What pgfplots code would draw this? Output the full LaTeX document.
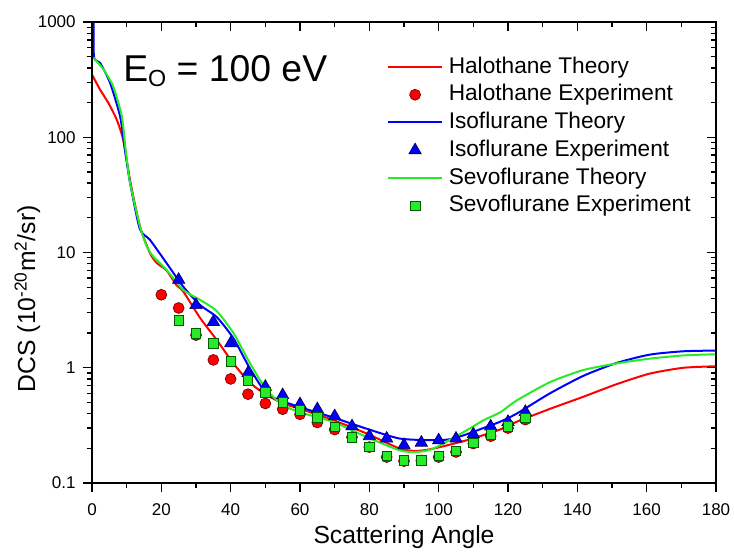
\documentclass[border=0pt]{standalone}
\usepackage{fontspec}
\setmainfont{Liberation Sans}
\usepackage{pgfplots}
\pgfplotsset{compat=1.18}
\usetikzlibrary{calc}

\definecolor{hred}{RGB}{255,0,0}
\definecolor{iblue}{RGB}{0,0,255}
\definecolor{sgreen}{RGB}{40,235,40}
\definecolor{hredD}{RGB}{110,0,0}
\definecolor{iblueD}{RGB}{0,0,90}
\definecolor{sgreenD}{RGB}{0,90,0}

% theory curves (angle, DCS)
\pgfplotstableread{
x y
0 350
2.3 260
4.7 199
7.1 143
9.0 95
11 42
13.8 17
16.7 9.9
18.7 8.1
21.5 7.0
24.4 5.2
26.3 4.6
31.2 2.7
36 1.74
40.8 1.09
45.6 0.74
50.4 0.58
55.2 0.49
60 0.44
69.6 0.351
79.2 0.269
88.8 0.199
93.6 0.19
98.5 0.199
108.1 0.235
117.7 0.291
122.5 0.34
132.1 0.44
141.7 0.56
151.3 0.72
160.9 0.89
170.6 1.0
180 1.03
}\halthe

\pgfplotstableread{
x y
0.5 1500
0.55 506
2.3 444
5.2 297
8.1 152
9.5 78
11 40
13.8 16
16.7 12.9
21.5 8.1
26.3 5.06
31.2 3.5
36 2.75
40.8 1.8
45.6 0.98
50.4 0.595
55.2 0.51
60 0.455
69.6 0.37
79.2 0.296
88.8 0.243
98.5 0.235
103.3 0.24
108.1 0.265
112.9 0.30
117.7 0.34
122.5 0.40
132.1 0.60
141.7 0.85
151.3 1.10
160.9 1.30
170.6 1.39
180 1.41
}\isothe

\pgfplotstableread{
x y
0.4 490
3.3 388
6.1 277
8.6 152
9.7 78
11 40
13.8 17
15.8 11.3
17.7 9.2
21.5 7.08
26.3 4.74
31.2 3.88
36 3.1
40.8 2.0
45.6 1.09
50.4 0.64
55.2 0.474
60 0.41
69.6 0.339
79.2 0.251
88.8 0.192
93.6 0.186
98.5 0.199
108.1 0.287
112.9 0.35
117.7 0.41
122.5 0.52
132.1 0.75
141.7 0.955
151.3 1.09
160.9 1.2
170.6 1.28
180 1.31
}\sevthe

% experiments
\pgfplotstableread{
x y
20 4.3
25 3.3
30 1.92
35 1.17
40 0.80
45 0.59
50 0.49
55 0.437
60 0.395
65 0.335
70 0.291
75 0.25
80 0.205
85 0.168
90 0.155
95 0.157
100 0.168
105 0.186
110 0.22
115 0.255
120 0.30
125 0.355
}\halexp

\pgfplotstableread{
x y
25 5.8
30 3.5
35 2.5
40 1.63
45 0.90
50 0.684
55 0.579
60 0.483
65 0.437
70 0.38
75 0.311
80 0.255
85 0.243
90 0.213
95 0.224
100 0.235
105 0.243
110 0.265
115 0.31
120 0.339
125 0.414
}\isoexp

\pgfplotstableread{
x y
25 2.57
30 1.99
35 1.63
40 1.14
45 0.78
50 0.615
55 0.50
60 0.428
65 0.37
70 0.307
75 0.248
80 0.206
85 0.172
90 0.157
95 0.157
100 0.172
105 0.19
110 0.224
115 0.265
120 0.31
125 0.367
}\sevexp

\pgfplotsset{
  dcsbase/.style={
    width=468pt, height=345.75pt, scale only axis,
    xmin=0, xmax=180, ymin=0.1, ymax=1000,
    xtick={0,20,...,180}, minor x tick num=1,
    ytick={0.1,1,10,100,1000},
    axis line style={line width=1pt},
    every tick/.style={black, line width=1pt},
    major tick length=6.75pt, minor tick length=3.75pt,
  }
}

\begin{document}
\begin{tikzpicture}
\begin{axis}[ymode=log, dcsbase,
  tick align=outside, xtick pos=left, ytick pos=left,
  yticklabels={0.1,1,10,100,1000},
  /pgf/number format/assume math mode=true,
  ticklabel style={font=\fontsize{12.75}{15}\selectfont},
  xticklabel style={yshift=-5pt},
  yticklabel style={xshift=-2pt},
  xlabel={Scattering Angle},
  xlabel style={font=\fontsize{18.5}{22}\selectfont, at={(axis description cs:0.5,0)}, anchor=base, yshift=-45pt},
  ylabel={DCS (10\textsuperscript{-20}m\textsuperscript{2}/sr)},
  ylabel style={font=\fontsize{18.5}{22}\selectfont, at={(axis description cs:-0.0913,0.187)}, anchor=base west, rotate=0},
  legend style={at={(0.473,0.933)}, anchor=north west, draw=none, fill=none,
    inner sep=0pt, column sep=4.5pt, row sep=0pt,
    font=\fontsize{17}{20}\selectfont,
    nodes={inner sep=0pt, text height=15pt, text depth=5.8pt}},
  legend cell align=left,
  legend image code/.code={\draw[mark repeat=2,mark phase=2,#1] plot coordinates {(0pt,0pt) (20pt,0pt) (40pt,0pt)};},
]
\coordinate (sw) at (rel axis cs:0,0);
\coordinate (ne) at (rel axis cs:1,1);
\addplot[hred, line width=1.5pt, smooth, tension=0.4] table {\halthe};
\addlegendentry{Halothane Theory}
\addplot[only marks, mark=*, mark size=4.1pt, mark options={fill=hred, draw=hredD, line width=0.5pt}] table {\halexp};
\addlegendentry{Halothane Experiment}
\addplot[iblue, line width=1.5pt, smooth, tension=0.4] table {\isothe};
\addlegendentry{Isoflurane Theory}
\addplot[only marks, mark=triangle*, mark size=5.3pt, mark options={fill=iblue, draw=iblueD, line width=0.5pt}] table {\isoexp};
\addlegendentry{Isoflurane Experiment}
\addplot[sgreen, line width=1.5pt, smooth, tension=0.4] table {\sevthe};
\addlegendentry{Sevoflurane Theory}
\addplot[only marks, mark=square*, mark size=3.6pt, mark options={fill=sgreen, draw=sgreenD, line width=0.5pt}] table {\sevexp};
\addlegendentry{Sevoflurane Experiment}
\node[anchor=base west, font=\fontsize{28}{32}\selectfont, inner sep=0pt] at (rel axis cs:0.0497,0.872)
  {E\raisebox{-4pt}{\fontsize{17.5}{19}\selectfont O} = 100 eV};
\end{axis}
\begin{axis}[ymode=log, dcsbase,
  tick align=inside, xtick pos=right, ytick pos=right,
  xticklabels={}, yticklabels={},
]
\addplot[draw=none] coordinates {(10,1)};
\end{axis}
\pgfresetboundingbox
\path[use as bounding box] ($(sw)+(-69pt,-52.5pt)$) rectangle ($(ne)+(13.5pt,16.5pt)$);
\end{tikzpicture}
\end{document}
